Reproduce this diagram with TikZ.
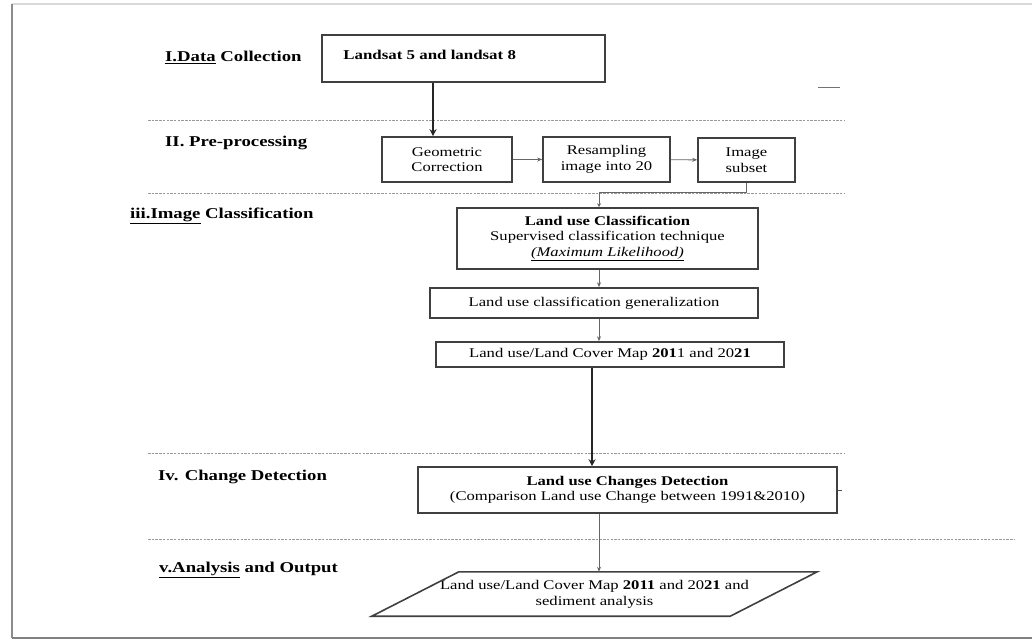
\documentclass[tikz,border=0pt]{standalone}
\usepackage{fontspec}
\setmainfont{Liberation Serif}[FakeStretch=1.25]
\usetikzlibrary{arrows.meta,calc}
\begin{document}
\begin{tikzpicture}[x=1pt,y=-1pt,
  box/.style={draw=black!75,line width=1.6pt,rectangle,inner sep=2pt,align=center,
    font=\fontsize{13.3}{15.5}\selectfont},
  lbl/.style={anchor=west,inner sep=0pt,font=\fontsize{15}{17}\selectfont\bfseries},
  sep/.style={draw=black!40,line width=1pt,dash pattern=on 2.5pt off 1.2pt},
  thin/.style={draw=black!60,line width=0.9pt,-{Stealth[length=5pt,width=4pt]}},
  thick/.style={draw=black!85,line width=1.8pt,-{Stealth[length=7pt,width=7pt]}},
  plain/.style={draw=black!60,line width=0.9pt}]
\useasboundingbox (0,0) rectangle (1032,641);
% frame
\draw[black!15,line width=1.2pt] (12,4) -- (1032,4);
\draw[black!45,line width=2.2pt] (12,4) -- (12,638);
\draw[black!50,line width=2pt] (12,638) -- (1032,638);
% separators
\draw[sep] (148,120) -- (845,120);
\draw[sep] (148,193) -- (845,193);
\draw[sep] (148,453) -- (845,453);
\draw[sep] (148,539) -- (1015,539);
\draw[black!55,line width=1pt] (818,87) -- (840,87);
% stage labels
\node[lbl] (l1) at (165,57) {\underline{I.Data} Collection};
\node[lbl] (l2) at (165,143) {II. Pre-processing};
\node[lbl] (l3) at (130,216) {\underline{iii.Image} Classification};
\node[lbl] (l4) at (158,477) {Iv. Change Detection};
\node[lbl] (l5) at (159,570) {\underline{v.Analysis} and Output};
% boxes
\node[box,minimum width=283,minimum height=47,
  label={[anchor=west,inner sep=0pt,font=\fontsize{13.5}{16}\selectfont\bfseries]west:{\hspace*{22pt}\raisebox{8pt}{Landsat 5 and landsat 8}}}]
  (land) at (463.5,58.5) {};
\node[box,minimum width=130,minimum height=45] (geo) at (447,159.5) {Geometric\\Correction};
\node[box,minimum width=127,minimum height=45] (res) at (606.5,159.5) {Resampling\\image into 20};
\node[box,minimum width=97,minimum height=44] (sub) at (746.5,160) {Image\\subset};
\node[box,minimum width=301,minimum height=61] (luc) at (607.5,238.5)
  {\textbf{Land use Classification}\\Supervised classification technique\\\underline{\itshape(Maximum Likelihood)}};
\node[box,minimum width=328,minimum height=30] (gen) at (594,303) {Land use classification generalization};
\node[box,minimum width=348,minimum height=25] (map) at (610,354.5) {Land use/Land Cover Map \textbf{201}1 and 20\textbf{21}};
\node[box,minimum width=419,minimum height=46] (chg) at (627.5,490)
  {\textbf{Land use Changes Detection}\\(Comparison Land use Change between 1991\&2010)};
\node[inner sep=0pt,minimum width=358,minimum height=44,align=center,font=\fontsize{13.3}{16}\selectfont]
  (out) at (594.5,594) {Land use/Land Cover Map \textbf{2011} and 20\textbf{21} and\\sediment analysis};
\draw[black!75,line width=1.6pt,line join=miter]
  ($(out.north west)+(43.5,0)$) -- ($(out.north east)+(43.5,0)$) --
  ($(out.south east)+(-43.5,0)$) -- ($(out.south west)+(-43.5,0)$) -- cycle;
% connectors
\coordinate (gin) at ($(geo.north)+(-14,0)$);
\draw[thick] (land.south -| gin) -- (gin);
\draw[thin] (geo) -- (res);
\draw[thin] (res) -- (sub);
\coordinate (lin) at ($(luc.north)+(-8.5,0)$);
\draw[plain,-{Stealth[length=4pt,width=4pt]}] (sub.south) -- ++(0,10) -| (lin);
\coordinate (gi) at (gen.north -| lin);
\draw[thin] (luc.south -| gi) -- (gi);
\coordinate (mi) at (map.north -| lin);
\draw[thin] (gen.south -| mi) -- (mi);
\coordinate (ci) at ($(chg.north)+(-35.5,0)$);
\draw[thick] (map.south -| ci) -- (ci);
\coordinate (oi) at (out.north -| lin);
\draw[thin] (chg.south -| oi) -- (oi);
\draw[black!70,line width=1pt] (chg.east) -- ++(4,0);
\end{tikzpicture}
\end{document}
